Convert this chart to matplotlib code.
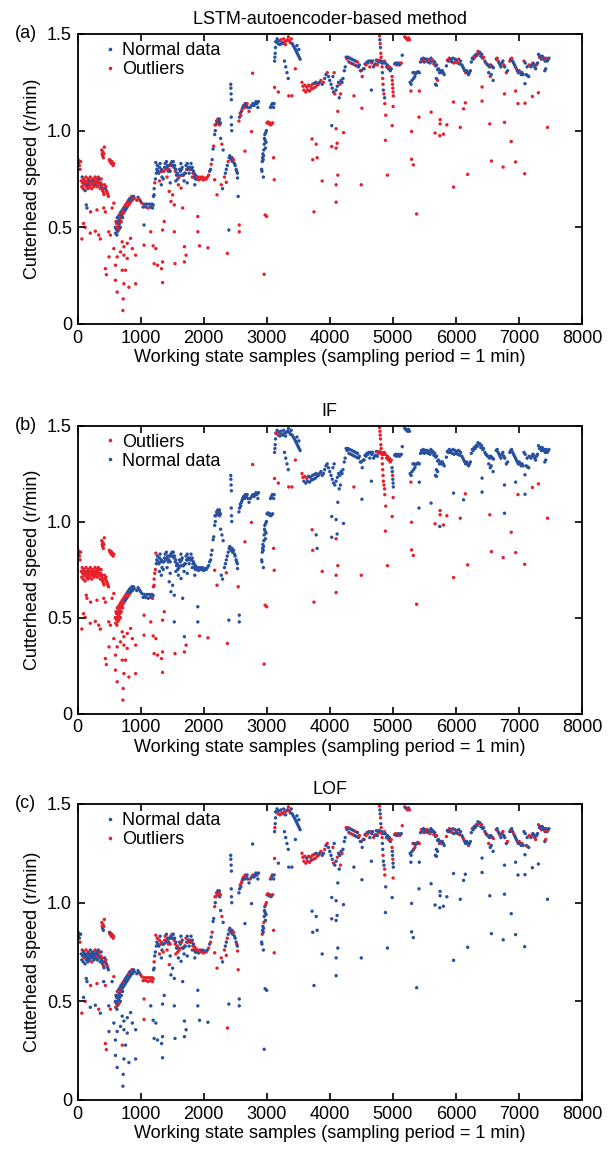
import matplotlib.pyplot as plt
from matplotlib.lines import Line2D

plt.rcParams['font.family'] = ['Liberation Sans', 'DejaVu Sans']

# main speed trace: sample index and cutterhead speed (r/min)
band_x = [
    5, 10, 15, 20, 30, 40, 50,
    60, 68, 75, 82, 90, 98, 105, 112, 120, 128,
    135, 142, 150, 158, 165, 172, 180, 188, 195, 203,
    210, 218, 225, 232, 240, 248, 255, 262, 270, 278,
    285, 292, 300, 308, 315, 322, 330, 338, 345, 352,
    360, 368, 375, 382, 390, 398, 405, 412, 420,
    385, 392, 398, 404, 410, 418, 425,
    430, 440, 450, 460, 470, 480, 490,
    505, 515, 525, 535, 545, 555, 565, 575,
    600, 605, 610, 615, 620, 625, 630, 635, 640, 645,
    650, 655, 660, 665, 670, 675, 680, 685, 690, 695,
    700, 710, 715, 720, 730, 740, 750, 760, 770, 780,
    790, 800, 810, 820, 830, 840, 850, 860, 870, 880,
    890, 900,
    940, 960, 980, 1000, 1020, 1040, 1060, 1080, 1100, 1120, 1140, 1160, 1180, 1200,
    1205, 1215, 1225, 1235, 1242, 1250, 1258, 1266, 1275,
    1290, 1300, 1310, 1320, 1330, 1340, 1350, 1360, 1370, 1380,
    1390, 1400, 1410, 1420, 1430, 1440, 1450, 1460, 1470, 1480,
    1490, 1500, 1510, 1520, 1530, 1540, 1550, 1560, 1570, 1580,
    1590, 1600, 1610, 1620, 1630, 1640, 1650, 1660, 1670, 1680,
    1690, 1700, 1710, 1720, 1730, 1740, 1750, 1760, 1770, 1780,
    1790, 1800, 1810, 1820, 1830, 1840, 1850, 1860, 1870, 1880,
    1890, 1900, 1920, 1940, 1960, 1980, 2000, 2020, 2040, 2060,
    2080,
    2095, 2110, 2120, 2135, 2150, 2160, 2175, 2185,
    2195, 2205, 2215, 2225, 2235, 2245, 2255, 2265,
    2330, 2345, 2360, 2375, 2390, 2405, 2415, 2425, 2435, 2450, 2460, 2475, 2490, 2500, 2515, 2525, 2535,
    2430, 2432, 2436, 2440, 2438, 2442, 2446,
    2560, 2570, 2580, 2590, 2600, 2610, 2620, 2635, 2650, 2660, 2675, 2690,
    2700, 2720, 2740, 2760, 2780, 2800, 2815, 2830, 2845, 2860, 2870,
    2920, 2925, 2930, 2935, 2940, 2945, 2950, 2955, 2960, 2965, 2970, 2975, 2980, 2985, 2990, 2995, 2948,
    3005, 3020, 3035, 3050, 3065, 3080, 3095, 3110, 3118,
    3125, 3130, 3135, 3140, 3145,
    3150, 3165, 3180, 3195, 3210, 3225, 3240, 3255, 3270, 3285,
    3300, 3315, 3330, 3345, 3360, 3375, 3390, 3405, 3420,
    3282, 3302, 3322, 3342,
    3440, 3455, 3470, 3485, 3500, 3515, 3530,
    3560, 3575, 3590, 3605, 3620, 3635, 3650, 3665, 3680, 3695, 3710, 3725, 3740, 3755, 3770, 3785, 3800,
    3820, 3840, 3860, 3880, 3900, 3920, 3940, 3960, 3980, 4000,
    4020, 4040, 4060, 4080, 4100, 4120, 4140, 4160, 4180, 4195,
    4210, 4230, 4245, 4260, 4275, 4290, 4305, 4320, 4335, 4350,
    4365, 4380, 4395, 4410, 4425, 4440, 4455, 4470, 4485, 4500,
    4515, 4530, 4545, 4560, 4575, 4590, 4605, 4620, 4635, 4650,
    4665, 4680, 4695, 4710, 4725, 4740, 4755,
    4765, 4775, 4785, 4855, 4865, 4880,
    4790, 4795, 4800, 4805, 4810, 4815, 4820, 4825, 4830, 4835, 4840, 4845, 4850, 4860, 4870,
    4900, 4915, 4930, 4945, 4960, 4975,
    4988, 4992, 4996, 5000, 5004, 5008,
    5030, 5045, 5060, 5075, 5090, 5105, 5120, 5135, 5150,
    5190, 5205, 5220, 5235, 5250, 5265,
    5275, 5290, 5305, 5320, 5340, 5360, 5380, 5400, 5420,
    5440, 5455, 5470, 5485, 5500, 5515, 5530, 5545, 5560, 5575,
    5590, 5605, 5620, 5635, 5650, 5665, 5680, 5695, 5710, 5725,
    5740, 5755, 5770, 5785, 5800, 5815, 5676, 5692,
    5850, 5865, 5880, 5895, 5910, 5925, 5940, 5955, 5970, 5985,
    6000, 6015, 6030, 6045, 6060, 6075,
    6095, 6110, 6125, 6140, 6155, 6170, 6185, 6200, 6215, 6230,
    6245, 6260, 6275, 6290, 6305, 6320, 6335, 6350, 6365, 6380, 6395, 6410, 6425, 6440,
    6460, 6475, 6490, 6505, 6520, 6535, 6550, 6565, 6580, 6595, 6545, 6590,
    6640, 6655, 6670, 6685, 6700, 6715, 6730, 6745, 6760, 6775,
    6855, 6870, 6885, 6900, 6915, 6930, 6945, 6960,
    6975, 6990, 7005, 7020, 7035, 7050, 7065, 7080, 7100, 7115, 7135, 7155,
    7190, 7205, 7220, 7235, 7250, 7265, 7280, 7295,
    7310, 7325, 7340, 7355, 7370, 7385, 7400, 7415, 7430, 7445, 7460, 7475,
]
band_y = [
    0.85, 0.84, 0.83, 0.845, 0.82, 0.80, 0.84,
    0.74, 0.71, 0.76, 0.73, 0.70, 0.75, 0.72, 0.74, 0.69, 0.73,
    0.76, 0.71, 0.74, 0.72, 0.70, 0.75, 0.73, 0.71, 0.74, 0.76,
    0.72, 0.74, 0.70, 0.73, 0.75, 0.72, 0.74, 0.71, 0.73, 0.76,
    0.74, 0.72, 0.75, 0.73, 0.71, 0.74, 0.76, 0.73, 0.75, 0.72,
    0.70, 0.73, 0.75, 0.71, 0.72, 0.69, 0.70, 0.68, 0.67,
    0.90, 0.88, 0.87, 0.89, 0.86, 0.88, 0.915,
    0.72, 0.70, 0.71, 0.69, 0.68, 0.67, 0.66,
    0.85, 0.84, 0.845, 0.83, 0.84, 0.83, 0.82, 0.83,
    0.50, 0.47, 0.53, 0.49, 0.52, 0.46, 0.55, 0.50, 0.48, 0.53,
    0.51, 0.56, 0.49, 0.54, 0.52, 0.57, 0.50, 0.55, 0.58, 0.53,
    0.56, 0.59, 0.55, 0.57, 0.60, 0.58, 0.61, 0.59, 0.62, 0.60,
    0.63, 0.61, 0.64, 0.62, 0.65, 0.63, 0.64, 0.66, 0.64, 0.65,
    0.66, 0.65,
    0.64, 0.655, 0.645, 0.635, 0.625, 0.605, 0.62, 0.605, 0.62, 0.60, 0.62, 0.605, 0.62, 0.615,
    0.66, 0.70, 0.73, 0.75, 0.835, 0.78, 0.80, 0.82, 0.79,
    0.78, 0.81, 0.83, 0.79, 0.80, 0.76, 0.79, 0.75, 0.79, 0.81,
    0.83, 0.80, 0.84, 0.81, 0.82, 0.79, 0.80, 0.82, 0.79, 0.83,
    0.82, 0.84, 0.82, 0.84, 0.81, 0.82, 0.79, 0.80, 0.77, 0.78,
    0.75, 0.77, 0.76, 0.80, 0.79, 0.83, 0.80, 0.81, 0.77, 0.77,
    0.74, 0.78, 0.78, 0.82, 0.80, 0.83, 0.80, 0.81, 0.78, 0.81,
    0.80, 0.83, 0.80, 0.81, 0.78, 0.79, 0.76, 0.775, 0.75, 0.765,
    0.75, 0.76, 0.745, 0.76, 0.75, 0.76, 0.745, 0.755, 0.75, 0.76,
    0.77,
    0.79, 0.80, 0.826, 0.85, 0.905, 0.92, 0.98, 1.00,
    1.03, 1.05, 1.04, 1.06, 1.04, 1.05, 1.03, 1.04,
    0.76, 0.78, 0.80, 0.82, 0.84, 0.86, 0.87, 0.86, 0.85, 0.86, 0.84, 0.85, 0.83, 0.82, 0.80, 0.79, 0.78,
    1.24, 1.22, 1.19, 1.16, 1.07, 1.03, 1.00,
    1.05, 1.07, 1.09, 1.08, 1.10, 1.11, 1.12, 1.13, 1.12, 1.14, 1.13, 1.14,
    1.12, 1.10, 1.12, 1.13, 1.14, 1.13, 1.14, 1.15, 1.14, 1.12, 1.15,
    0.80, 0.79, 0.84, 0.86, 0.88, 0.85, 0.87, 0.90, 0.93, 0.96, 0.98, 0.95, 0.91, 0.99, 0.94, 1.00, 0.76,
    1.04, 1.045, 1.035, 1.04, 1.03, 1.035, 1.04, 1.12, 1.14,
    1.36, 1.38, 1.40, 1.43, 1.46,
    1.46, 1.475, 1.45, 1.465, 1.445, 1.47, 1.455, 1.45, 1.475, 1.46,
    1.445, 1.465, 1.47, 1.485, 1.465, 1.455, 1.475, 1.45, 1.44,
    1.36, 1.33, 1.30, 1.27,
    1.43, 1.42, 1.41, 1.40, 1.39, 1.38, 1.37,
    1.25, 1.23, 1.21, 1.235, 1.20, 1.225, 1.21, 1.235, 1.205, 1.23, 1.215, 1.24, 1.22, 1.245, 1.225, 1.25, 1.235,
    1.24, 1.25, 1.26, 1.24, 1.25, 1.27, 1.29, 1.30, 1.28, 1.26,
    1.24, 1.22, 1.20, 1.19, 1.21, 1.23, 1.25, 1.24, 1.26, 1.25,
    1.27, 1.31, 1.33, 1.38, 1.37, 1.38, 1.355, 1.375, 1.35, 1.37,
    1.345, 1.365, 1.34, 1.36, 1.335, 1.355, 1.33, 1.34, 1.31, 1.31,
    1.28, 1.32, 1.32, 1.345, 1.34, 1.355, 1.35, 1.36, 1.33, 1.36,
    1.35, 1.36, 1.33, 1.34, 1.345, 1.365, 1.34,
    1.36, 1.355, 1.365, 1.35, 1.36, 1.35,
    1.49, 1.47, 1.45, 1.43, 1.40, 1.38, 1.36, 1.35, 1.33, 1.30, 1.27, 1.24, 1.21, 1.19, 1.17,
    1.33, 1.34, 1.32, 1.33, 1.31, 1.32,
    1.28, 1.26, 1.24, 1.22, 1.20, 1.18,
    1.345, 1.35, 1.34, 1.345, 1.35, 1.34, 1.345, 1.35, 1.39,
    1.485, 1.48, 1.475, 1.47, 1.48, 1.47,
    1.25, 1.24, 1.26, 1.30, 1.30, 1.295, 1.30, 1.305, 1.30,
    1.355, 1.37, 1.36, 1.375, 1.355, 1.37, 1.36, 1.37, 1.355, 1.365,
    1.35, 1.375, 1.36, 1.365, 1.345, 1.355, 1.335, 1.34, 1.315, 1.32,
    1.30, 1.31, 1.30, 1.31, 1.30, 1.29, 1.24, 1.235,
    1.335, 1.365, 1.36, 1.375, 1.36, 1.37, 1.355, 1.375, 1.35, 1.37,
    1.355, 1.365, 1.35, 1.37, 1.345, 1.36,
    1.34, 1.33, 1.32, 1.31, 1.30, 1.31, 1.30, 1.29, 1.30, 1.31,
    1.355, 1.375, 1.37, 1.385, 1.38, 1.395, 1.39, 1.41, 1.40, 1.405, 1.385, 1.395, 1.375, 1.38,
    1.36, 1.35, 1.345, 1.34, 1.335, 1.33, 1.34, 1.335, 1.33, 1.325, 1.28, 1.26,
    1.37, 1.375, 1.36, 1.35, 1.34, 1.33, 1.35, 1.36, 1.34, 1.33,
    1.36, 1.37, 1.375, 1.36, 1.35, 1.34, 1.33, 1.32,
    1.31, 1.30, 1.31, 1.30, 1.29, 1.30, 1.29, 1.36, 1.35, 1.29, 1.285, 1.28,
    1.33, 1.34, 1.35, 1.345, 1.33, 1.32, 1.34, 1.35,
    1.395, 1.38, 1.385, 1.37, 1.385, 1.37, 1.375, 1.36, 1.375, 1.36, 1.365, 1.375,
]
# detector verdicts for the trace, 'o' = outlier, '.' = normal data
band_lstm = (
    "ooooooo"
    "oo.ooooo.o" "ooo.oooo.o" "oooooo.ooo" "o.oooooo.o" "ooo.ooooo"
    "ooooooo"
    "o.ooooo"
    "oooooooo"
    "..o.o..o.." "o.o..o.o.o" ".o.o.oo.o." "oo.o.o.oo." ".o"
    "o.o.o....o...."
    "..o......"
    "...o....o." ".o....o..." "o.....o..." "..o.....o." "....o....." "o...o....." ".ooooooooo" "o"
    "..o..o.."
    "oo.oo.o."
    "o...o......o....."
    "......."
    "o.oo.o..o..o.o........."
    "................."
    "ooooooo.."
    "....."
    ".....o..ooooooooo.."
    "...."
    "......."
    "ooooooooooooo.o.o"
    "o.o.o..o.."
    "...o...o.."
    "....o...o." "..o..o..o." "oo..o...o." "o..o..o"
    "o.o.o."
    "o.o.oo..o.oo.o."
    "o..o.."
    "oooooo"
    "..o....o."
    "oooooo"
    "........."
    "..o...o..o" "...oo....."
    "........"
    ".o.oo...o." "o.oo.."
    "....o....."
    "....o..oo....o"
    "..o....o..o."
    ".oo.....o."
    "o.o....o"
    "...o...o...."
    "..o...o."
    ".o...o..o..."
)
band_if = (
    "ooooooo" +
    "o" * 49 +
    "ooooooo" +
    "ooooooo" +
    "oooooooo" +
    "oooooooooo" "oooooooooo" "ooooooo.o." ".o.o......" ".." +
    "." * 14 +
    "ooooo...." +
    "." * 71 +
    "........" +
    ".o......" +
    "." * 17 +
    "......." +
    "." * 23 +
    "." * 17 +
    "." * 9 +
    "....." +
    "o.o................" +
    "...." +
    "......." +
    "oo.o.o..........." +
    "." * 10 +
    "." * 10 +
    "." * 37 +
    "oooooo" +
    "o" * 15 +
    "oooooo" +
    "..o..." +
    "." * 9 +
    "......" +
    "." * 9 +
    "." * 20 +
    "." * 8 +
    "." * 16 +
    "." * 10 +
    "." * 14 +
    "." * 12 +
    "." * 10 +
    "." * 8 +
    "." * 12 +
    "." * 8 +
    "." * 12
)
band_lof = (
    ".....o."
    "..o...o..." "o....o...." "..o......o" "...o....o." ".o..o..o."
    "oo.o.oo"
    "..o.o.."
    "oo.ooooo"
    ".o....o..." "..o....o.." "o...o....." "..o....o.." ".."
    "...ooooooooooo"
    ".o..o..o."
    ".o.oo..o.o" "o..o.o..o." ".o..o.o..o" "o.o...o.o." ".o.o..o..o" "..o.o..o.o" ".o.oo.o.o." "o"
    ".o.o..o."
    "ooo.oo.o"
    "o..o...o...o...o."
    "......."
    "..o.oo.o.oo...o.o......"
    "..o....o.....o.o."
    "oo.oo.o.."
    ".o..."
    "..o.o.oo.o.o.oo...."
    "...."
    "......."
    "ooooo.oooo.oooo.o"
    "o.o..o.o.."
    "..o..o...o"
    "...o.o..o." "o..o...o.." ".o..o.o..o" "..o.o.."
    ".o..o."
    "o..o.o.oo..o..o"
    "..o..o"
    "o..o.."
    ".o...o..o"
    "o.oo.o"
    "...o....o"
    ".o..o..o.." "o...o..o.."
    "..o....."
    "o..o..oo.." ".o..o."
    "..o....o.."
    ".o...o..o..o.."
    ".o..o....o.."
    "o...o..o.."
    ".o..o..."
    "..o..o....o."
    ".o...o.."
    "o..o...o..o."
)

# extra readings that thicken the trace
fill_x = [
    1300, 1330, 1420, 1470, 1560, 1600, 1650, 1740, 1820, 1860,
    2270, 2290, 2310, 2280, 2300,
    3060, 3075, 3090,
    4050, 4070, 4150, 4170,
    5330, 5350, 5690, 5710,
    6520, 6560, 6800, 6820,
    7130, 7160, 7410, 7425,
    3480, 3510, 2180, 2250,
]
fill_y = [
    0.74, 0.72, 0.76, 0.73, 0.74, 0.72, 0.77, 0.73, 0.76, 0.72,
    0.96, 0.93, 0.90, 0.72, 0.70,
    1.12, 1.13, 1.14,
    1.28, 1.30, 1.17, 1.19,
    1.27, 1.28, 1.27, 1.26,
    1.30, 1.29, 1.30, 1.31,
    1.33, 1.34, 1.31, 1.32,
    1.44, 1.42, 1.03, 1.06,
]
fill_lstm = "o.o..o..o." ".o.o." "..." ".o.o" "...o" "..o." ".o.." "..o."
fill_if = "." * 38
fill_lof = "o.o.o.o.o." ".o.o." ".o." "o..o" ".o.." "o..o" ".o.o" "..o."

# scattered readings away from the main trace
stray_x = [
    69, 96, 123, 203, 283, 336, 362, 139, 150, 208,
    309, 416, 442, 576, 549, 496, 522, 500, 442, 458,
    602, 629, 576, 709, 736, 789, 842, 682, 736, 789,
    869, 922, 602, 629, 709, 736, 762, 725, 720, 815,
    922, 1055, 1200, 1242, 1215, 1269, 1349, 1333, 1349, 1546,
    1695, 1722, 1935, 2068, 1055, 1162, 1349, 1375, 1189, 1215,
    1535, 1695, 1908, 1908, 1668, 1455, 1508, 1482, 1535, 1642,
    2212, 2175, 2360, 2377, 2400, 2565, 2565, 2655, 2760, 2777,
    2537, 2548, 2975, 3000, 2960, 3110, 3120, 3125, 3455, 3185,
    3350, 3400, 3720, 3785, 3730, 3880, 3750, 3800,
    4128, 4032, 4101, 4218, 4032, 4117, 4101, 4128, 4101, 4101,
    4500, 4383, 4510, 4660, 4873, 4888, 4883, 4915, 5005, 4990,
    5287, 5420, 5298, 5298, 5325, 5378, 5415, 5607, 5750, 5750,
    5857, 5670, 5803, 5745, 5963, 6150, 6122, 6070, 6187, 5963,
    6415, 6415, 6538, 6564, 6750, 6771, 6771, 6947, 6985, 6878,
    6947, 7091, 7096, 7096, 7213, 7309, 7453,
]
stray_y = [
    0.44, 0.52, 0.50, 0.47, 0.48, 0.46, 0.44, 0.616, 0.60, 0.58,
    0.59, 0.60, 0.58, 0.625, 0.60, 0.477, 0.46, 0.347, 0.286, 0.255,
    0.304, 0.347, 0.39, 0.425, 0.40, 0.417, 0.443, 0.373, 0.356, 0.339,
    0.39, 0.356, 0.226, 0.165, 0.278, 0.208, 0.278, 0.13, 0.07, 0.19,
    0.208, 0.408, 0.404, 0.39, 0.312, 0.304, 0.321, 0.286, 0.214, 0.312,
    0.321, 0.356, 0.404, 0.394, 0.512, 0.477, 0.486, 0.53, 0.60, 0.668,
    0.477, 0.40, 0.477, 0.556, 0.60, 0.686, 0.668, 0.634, 0.616, 0.703,
    0.668, 0.746, 0.733, 0.365, 0.486, 0.512, 0.477, 0.894, 0.995, 1.297,
    0.755, 0.66, 0.564, 0.556, 0.257, 0.86, 0.746, 1.224, 1.32, 1.20,
    1.18, 1.18, 0.957, 0.93, 0.85, 0.74, 0.58, 0.86,
    1.10, 1.026, 1.01, 0.99, 0.918, 0.935, 0.91, 0.77, 0.72, 0.63,
    0.72, 1.18, 1.116, 1.21, 1.14, 1.08, 0.95, 0.77, 1.125, 1.026,
    1.205, 1.205, 0.996, 0.852, 0.823, 0.569, 1.07, 1.096, 1.057, 1.035,
    1.03, 0.988, 0.982, 0.974, 1.148, 1.144, 1.113, 1.017, 0.774, 0.708,
    1.226, 1.153, 1.035, 0.843, 0.812, 1.19, 1.043, 1.205, 1.14, 0.944,
    0.838, 0.777, 1.243, 1.142, 1.177, 1.196, 1.017,
]
stray_lstm = (
    "ooooooo..o" "oooooooooo" "oooooooooo" "oooooooooo" "oooooooooo"
    "oooo.ooo.." "oooooooooo" "oooo.ooooo" "..oooooooo" "oooooooo"
    "o.oooooooo" "ooo.oooooo" "oooooooooo" "oooooooooo" "oooooooooo" "oo.oooo"
)
stray_if = (
    "oooooooooo" "oooooooooo" "oooooooooo" "oooooooooo" "oooooooooo"
    "oooooooooo" ".........." "oooo...ooo" ".ooooooooo" "ooo.ooo."
    "......oooo" "oo..oooooo" "o.oooo..oo" "ooo..o.ooo" "..ooo...oo" "oo..ooo"
)
stray_lof = (
    "o.o..o...o" "o.oo..o.oo" ".........." "....o....." ".o........"
    "....o...o." ".....o...." "oooo......" "oo...ooo.." "........"
    ".........." "....o...o." ".........." ".........." ".........." "......."
)

for name, seq, ref in [('band_y', band_y, band_x), ('band_lstm', band_lstm, band_x),
                       ('band_if', band_if, band_x), ('band_lof', band_lof, band_x),
                       ('fill_y', fill_y, fill_x), ('fill_lstm', fill_lstm, fill_x),
                       ('fill_if', fill_if, fill_x), ('fill_lof', fill_lof, fill_x),
                       ('stray_y', stray_y, stray_x), ('stray_lstm', stray_lstm, stray_x),
                       ('stray_if', stray_if, stray_x), ('stray_lof', stray_lof, stray_x)]:
    if len(seq) != len(ref):
        raise ValueError(f"{name}: {len(seq)} vs {len(ref)}")

BLUE = '#27509e'
RED = '#e6202a'
FS = 13

xs = band_x + fill_x + stray_x
ys = band_y + fill_y + stray_y
order = sorted(range(len(xs)), key=lambda i: xs[i])

panels = [
    ('(a)', 'LSTM-autoencoder-based method', band_lstm + fill_lstm + stray_lstm, False, 34, 324),
    ('(b)', 'IF', band_if + fill_if + stray_if, True, 425.5, 713.5),
    ('(c)', 'LOF', band_lof + fill_lof + stray_lof, False, 804, 1100),
]

W, H = 613, 1155
fig = plt.figure(figsize=(W / 100, H / 100), dpi=100)

for tag, title, flags, outliers_first, top, bottom in panels:
    ax = fig.add_axes([77.5 / W, 1 - bottom / H, 504.5 / W, (bottom - top) / H])
    px = [xs[i] for i in order]
    py = [ys[i] for i in order]
    pc = [RED if flags[i] == 'o' else BLUE for i in order]
    ax.scatter(px, py, c=pc, s=6, linewidths=0)

    ax.set_xlim(0, 8000)
    ax.set_ylim(0, 1.5)
    ax.set_xticks(range(0, 8001, 1000))
    ax.set_yticks([0, 0.5, 1.0, 1.5])
    ax.set_yticklabels(['0', '0.5', '1.0', '1.5'])
    ax.tick_params(direction='in', top=True, right=True, length=5, width=1.2, labelsize=FS, pad=4)
    for sp in ax.spines.values():
        sp.set_linewidth(1.3)
    ax.set_xlabel('Working state samples (sampling period = 1 min)', fontsize=FS, labelpad=2)
    ax.set_ylabel('Cutterhead speed (r/min)', fontsize=FS, labelpad=4)
    ax.set_title(title, fontsize=FS, pad=7)

    h_norm = Line2D([], [], ls='', marker='o', markersize=2.6, color=BLUE, markeredgewidth=0)
    h_out = Line2D([], [], ls='', marker='o', markersize=2.6, color=RED, markeredgewidth=0)
    if outliers_first:
        handles, labels = [h_out, h_norm], ['Outliers', 'Normal data']
    else:
        handles, labels = [h_norm, h_out], ['Normal data', 'Outliers']
    ax.legend(handles, labels, loc='upper left', frameon=False, fontsize=FS,
              handlelength=0.8, handletextpad=0.25, labelspacing=0.1,
              borderaxespad=0.0, borderpad=0.3, bbox_to_anchor=(0.04, 0.99))

    fig.text(15 / W, 1 - top / H, tag, fontsize=FS, va='center', ha='left')

fig.savefig('out.png', dpi=100)
